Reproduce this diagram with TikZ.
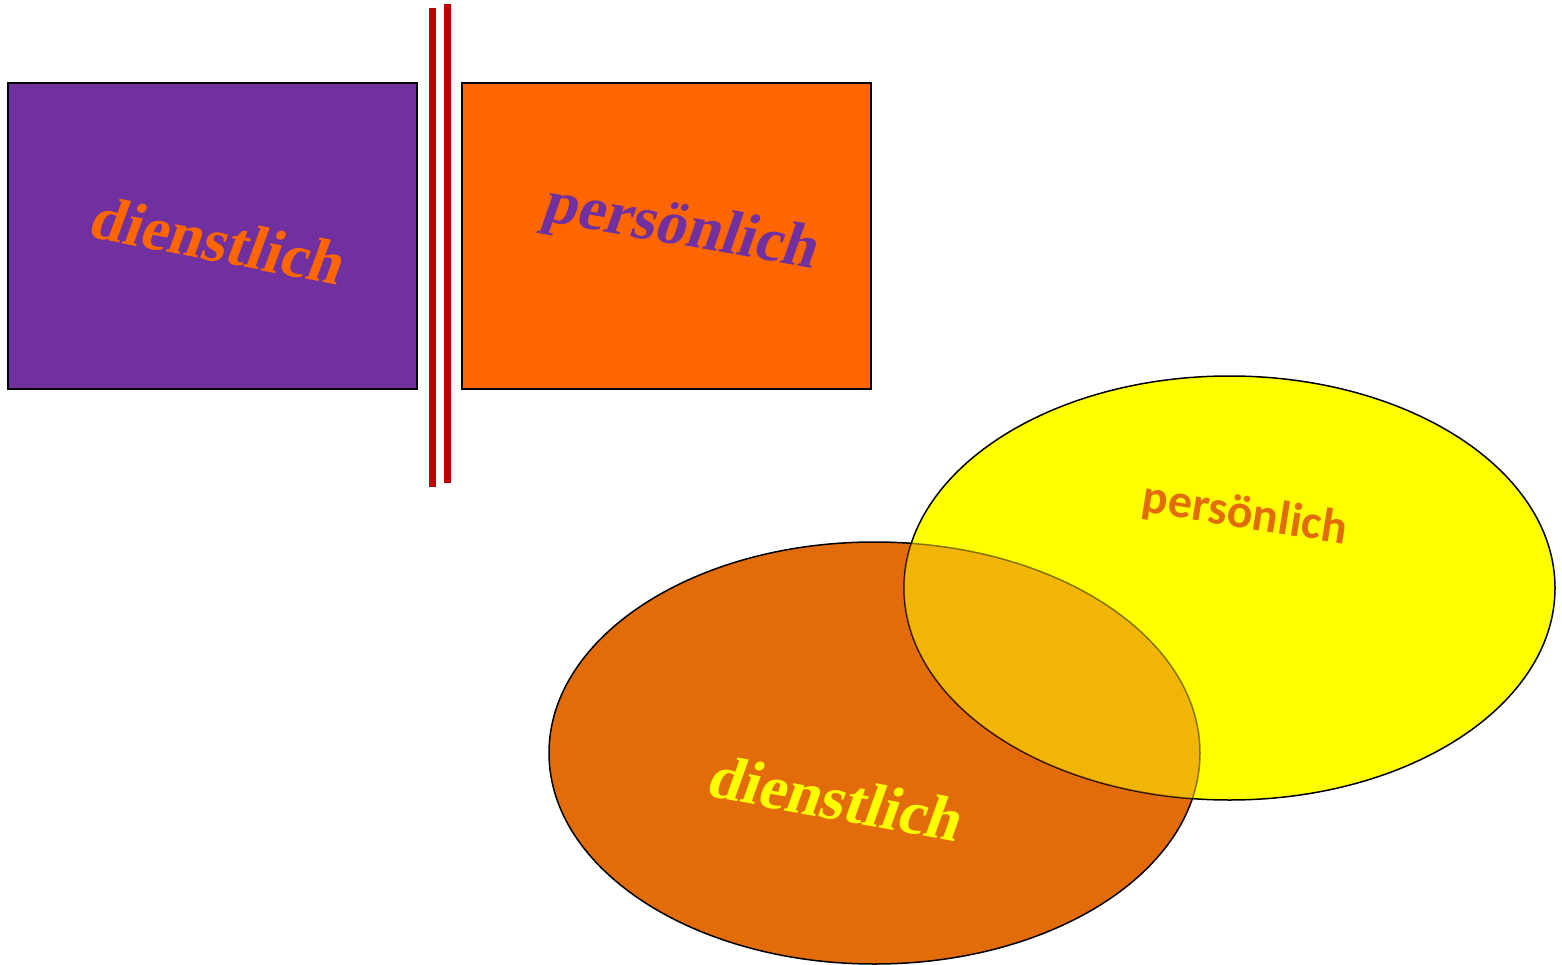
\documentclass[tikz,border=0pt]{standalone}
\usepackage{fontspec}
\setmainfont{Liberation Serif}
\newfontfamily\slb[FakeSlant=0.16]{Liberation Serif}
\newfontfamily\calib{Carlito}
\definecolor{purp}{HTML}{7030A0}
\definecolor{orng}{HTML}{FF6600}
\definecolor{dorng}{HTML}{E36C0A}
\definecolor{redl}{HTML}{C00000}
\definecolor{yel}{HTML}{FFFF00}
\begin{document}
\begin{tikzpicture}[x=1pt,y=-1pt,
  box/.style={draw=black,line width=1.5pt},
  redline/.style={draw=redl,line width=6.5pt},
  serift/.style={font=\slb\bfseries\fontsize{62}{66}\selectfont},
  sanst/.style={font=\calib\bfseries\fontsize{48}{52}\selectfont},
  ell/.style={draw=black,line width=1.5pt}]
\useasboundingbox (0,0) rectangle (1562,965);
% rectangles
\node[box,fill=purp,minimum width=409pt,minimum height=306pt,inner sep=0pt] (r1) at (212.5,236) {};
\node[box,fill=orng,minimum width=409pt,minimum height=306pt,inner sep=0pt] (r2) at (666.5,236) {};
\node[serift,text=orng,rotate=-11] (t1) at (216,240) {dienstlich};
\node[serift,text=purp,rotate=-10] (t2) at (679,230) {persönlich};
% red lines
\coordinate (l1a) at (432.5,8); \coordinate (l1b) at (432.5,487);
\coordinate (l2a) at (447.5,4); \coordinate (l2b) at (447.5,483);
\draw[redline] (l1a) -- (l1b);
\draw[redline] (l2a) -- (l2b);
% ellipses
\coordinate (cy) at (1229.5,588);
\coordinate (co) at (874.5,753);
\fill[dorng] (co) ellipse [x radius=325.5, y radius=211];
\draw[ell] (co) ellipse [x radius=325.5, y radius=211];
\fill[yel] (cy) ellipse [x radius=325.5, y radius=212];
\draw[ell] (cy) ellipse [x radius=325.5, y radius=212];
\begin{scope}
\clip (cy) ellipse [x radius=325.5, y radius=212];
\fill[dorng,opacity=0.5] (co) ellipse [x radius=325.5, y radius=211];
\draw[black,opacity=0.45,line width=1.5pt] (co) ellipse [x radius=325.5, y radius=211];
\end{scope}
\node[sanst,text=dorng,rotate=-9] (t3) at (1245,515) {persönlich};
\node[serift,text=yel,rotate=-10.5] (t4) at (834,798) {dienstlich};
\end{tikzpicture}
\end{document}
